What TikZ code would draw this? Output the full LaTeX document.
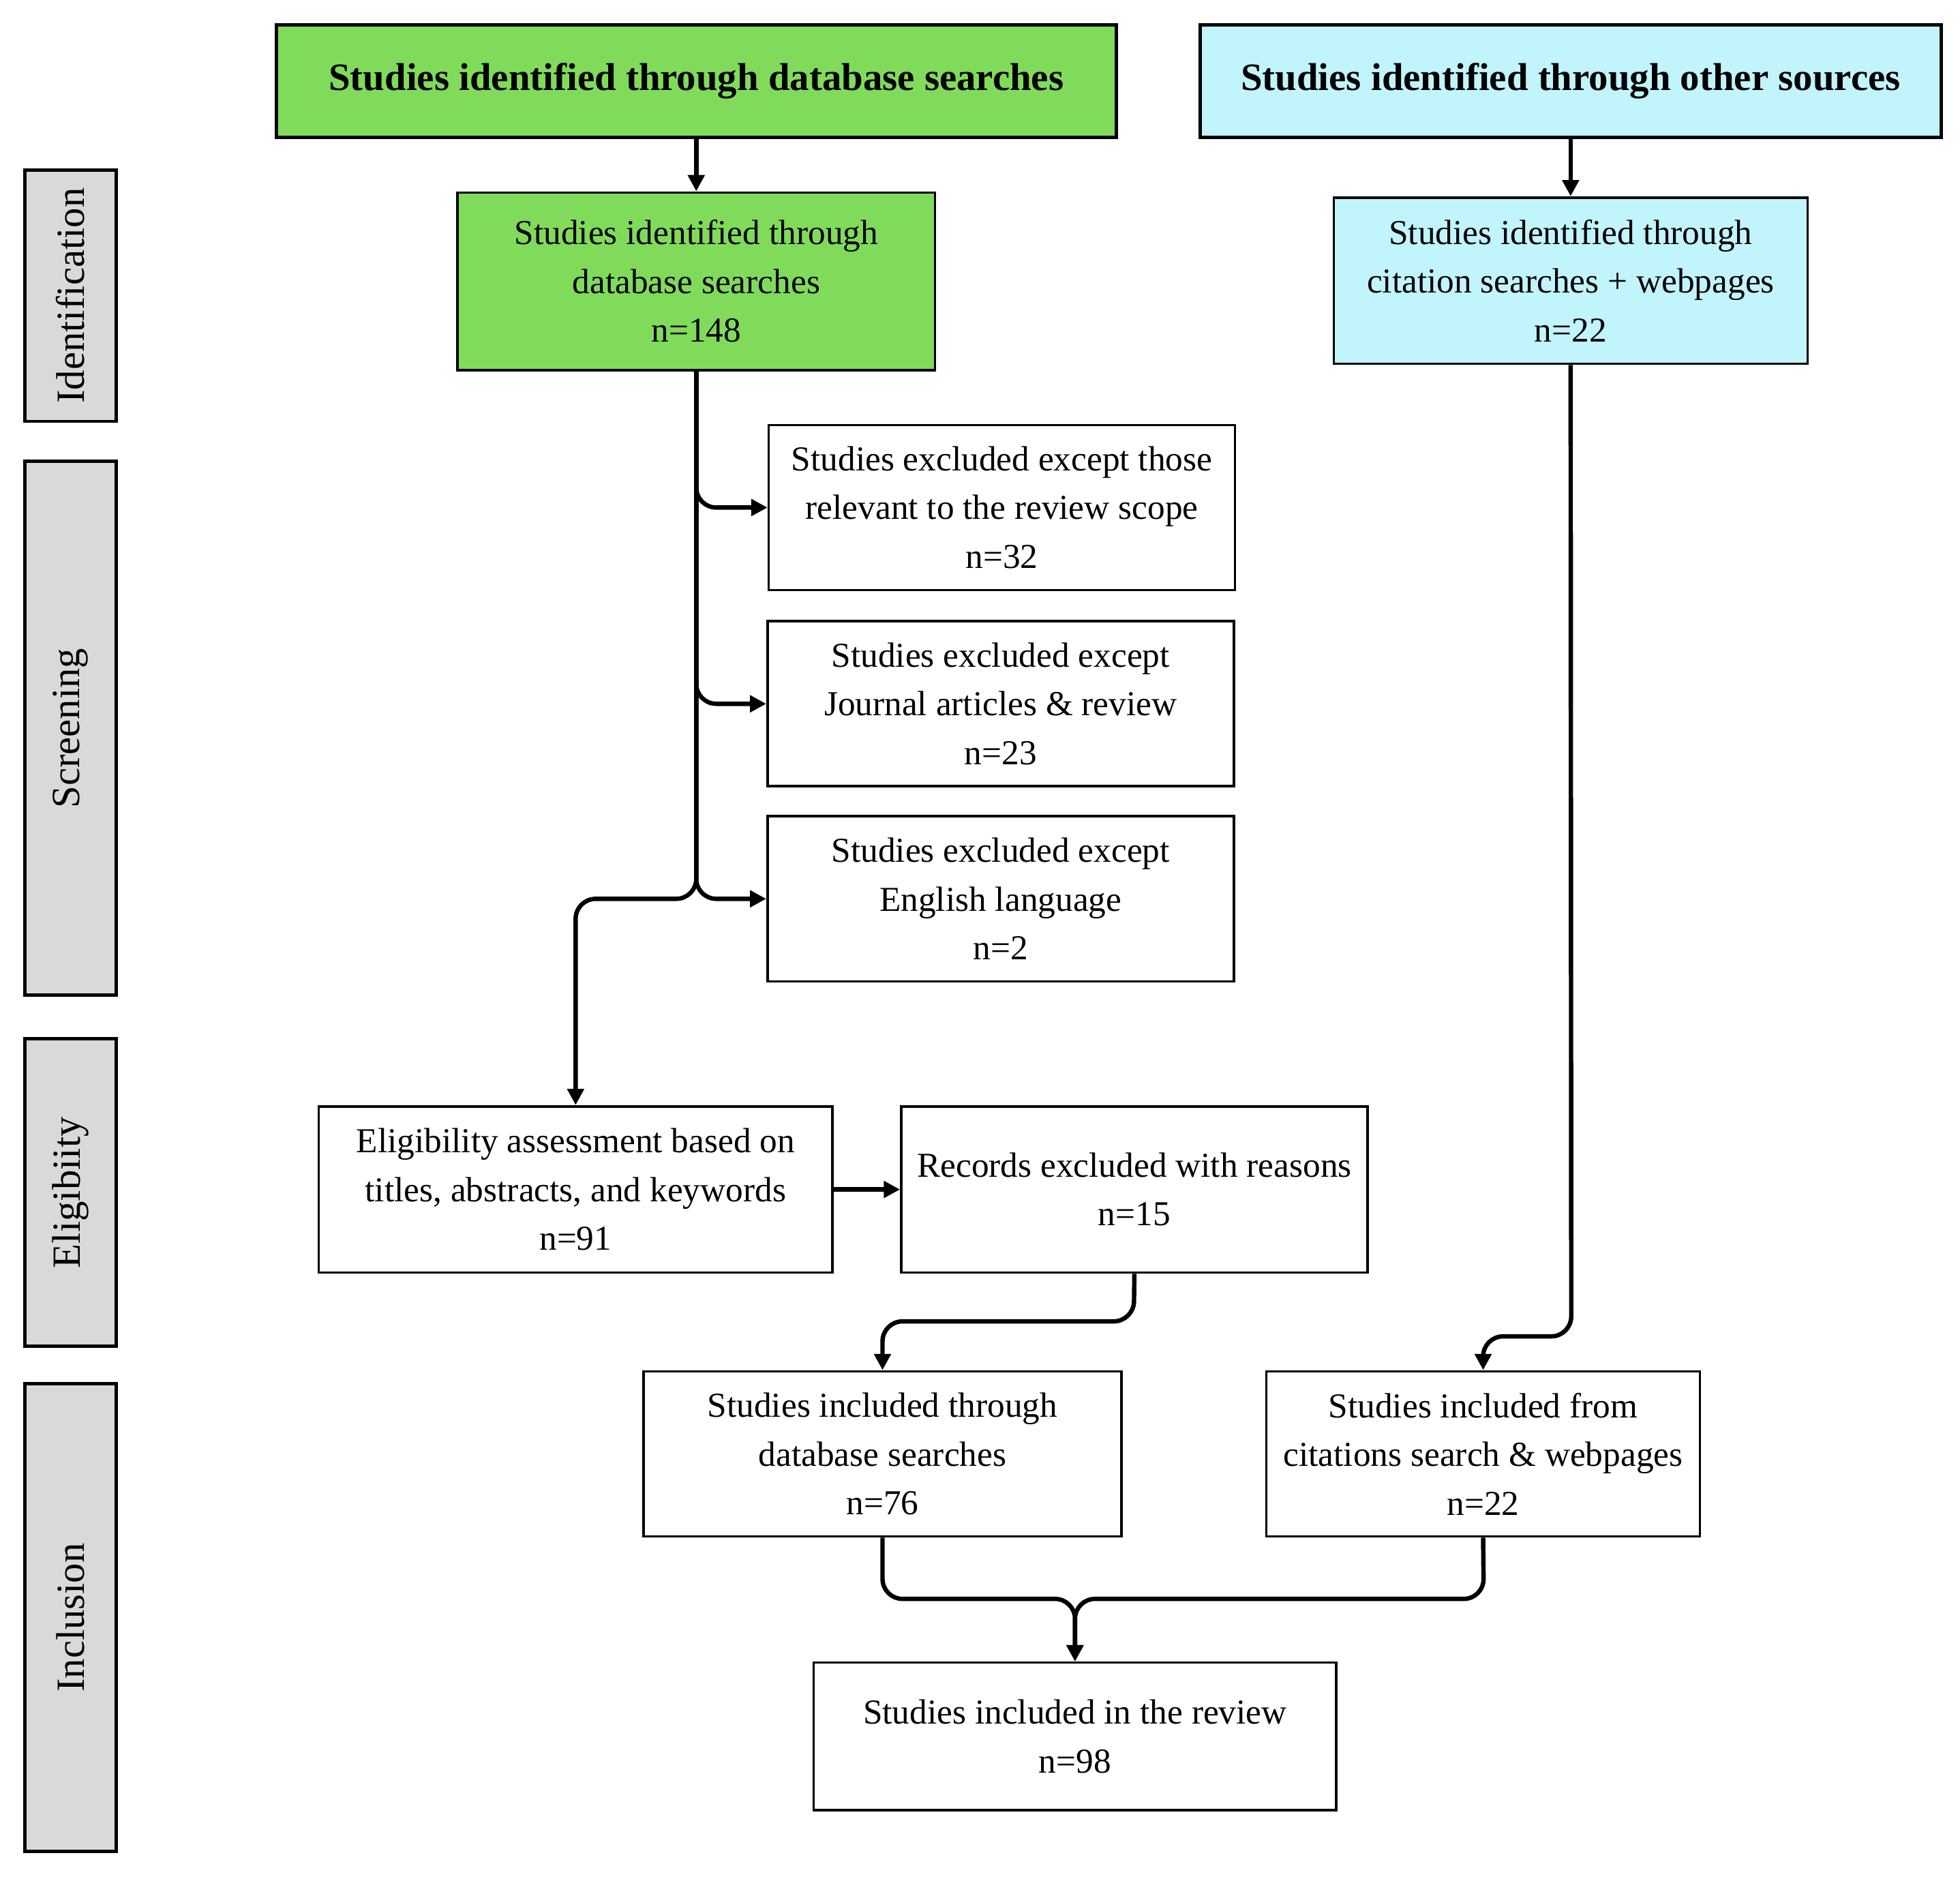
\documentclass[tikz,border=0pt]{standalone}
\usepackage{fontspec}
\setmainfont{Liberation Serif}
\usetikzlibrary{arrows.meta}
\definecolor{hgreen}{RGB}{128,219,90}
\definecolor{hcyan}{RGB}{193,244,251}
\definecolor{sidegray}{RGB}{217,217,217}
\tikzset{
  box/.style={draw=black, line width=2pt, align=center, inner sep=0pt,
    font=\fontsize{28}{39}\selectfont},
  header/.style={box, line width=2.5pt, font=\fontsize{31}{39}\selectfont\bfseries},
  side/.style={draw=black, line width=2.5pt, fill=sidegray, rotate=90, inner sep=0pt,
    font=\fontsize{32}{39}\selectfont},
  conn/.style={line width=3.5pt, rounded corners=16pt,
    -{Triangle[length=13pt,width=13pt]}},
}
\begin{document}
\begin{tikzpicture}[x=1pt,y=-1pt]
\useasboundingbox[fill=white] (0,0) rectangle (1568,1502.6);

% side labels
\node[side, minimum width=201pt, minimum height=73pt] (sid) at (56.5,236.5) {Identification};
\node[side, minimum width=427pt, minimum height=73pt] (sscr) at (56.5,582.5) {Screening};
\node[side, minimum width=246pt, minimum height=73pt] (selig) at (56.5,954) {Eligibiity};
\node[side, minimum width=374pt, minimum height=73pt] (sinc) at (56.5,1294) {Inclusion};

% headers
\node[header, fill=hgreen, minimum width=672pt, minimum height=90pt] (h1) at (557,65) {Studies identified through database searches};
\node[header, fill=hcyan, minimum width=593pt, minimum height=90pt] (h2) at (1256.5,65) {Studies identified through other sources};

% identification boxes
\node[box, fill=hgreen, minimum width=382pt, minimum height=142pt] (db) at (557,225) {Studies identified through\\database searches\\n=148};
\node[box, fill=hcyan, minimum width=379pt, minimum height=133pt] (cit) at (1256.5,224.5) {Studies identified through\\citation searches + webpages\\n=22};

% screening boxes
\node[box, minimum width=373pt, minimum height=132pt] (ex1) at (801.5,406) {Studies excluded except those\\relevant to the review scope\\n=32};
\node[box, minimum width=373pt, minimum height=132pt] (ex2) at (800.5,563) {Studies excluded except\\Journal articles \& review\\n=23};
\node[box, minimum width=373pt, minimum height=132pt] (ex3) at (800.5,719) {Studies excluded except\\English language\\n=2};

% eligibility
\node[box, minimum width=411pt, minimum height=133pt] (elig) at (460.5,951.5) {Eligibility assessment based on\\titles, abstracts, and keywords\\n=91};
\node[box, minimum width=373pt, minimum height=133pt] (rec) at (907.5,951.5) {Records excluded with reasons\\n=15};

% inclusion
\node[box, minimum width=382pt, minimum height=132pt] (inc1) at (706,1163) {Studies included through\\database searches\\n=76};
\node[box, minimum width=347pt, minimum height=132pt] (inc2) at (1186.5,1163) {Studies included from\\citations search \& webpages\\n=22};
\node[box, minimum width=418pt, minimum height=118pt] (fin) at (860,1389) {Studies included in the review\\n=98};

% bend points
\coordinate (j1) at (557,719);
\coordinate (j2) at (907,1057);
\coordinate (j3) at (1257,1069);
\coordinate (j4) at (706,1279);
\coordinate (j5) at (1187,1279);

% connectors
\draw[conn] (h1) -- (db);
\draw[conn] (h2) -- (cit);
\draw[conn] (db.south) |- (ex1.west);
\draw[conn] (db.south) |- (ex2.west);
\draw[conn] (db.south) |- (ex3.west);
\draw[conn] (db.south) -- (j1) -| (elig.north);
\draw[conn] (elig.east) -- (rec.west);
\draw[conn] (rec.south) -- (j2) -| (inc1.north);
\draw[conn] (cit.south) -- (j3) -| (inc2.north);
\draw[conn] (inc1.south) -- (j4) -| (fin.north);
\draw[conn] (inc2.south) -- (j5) -| (fin.north);
\end{tikzpicture}
\end{document}
